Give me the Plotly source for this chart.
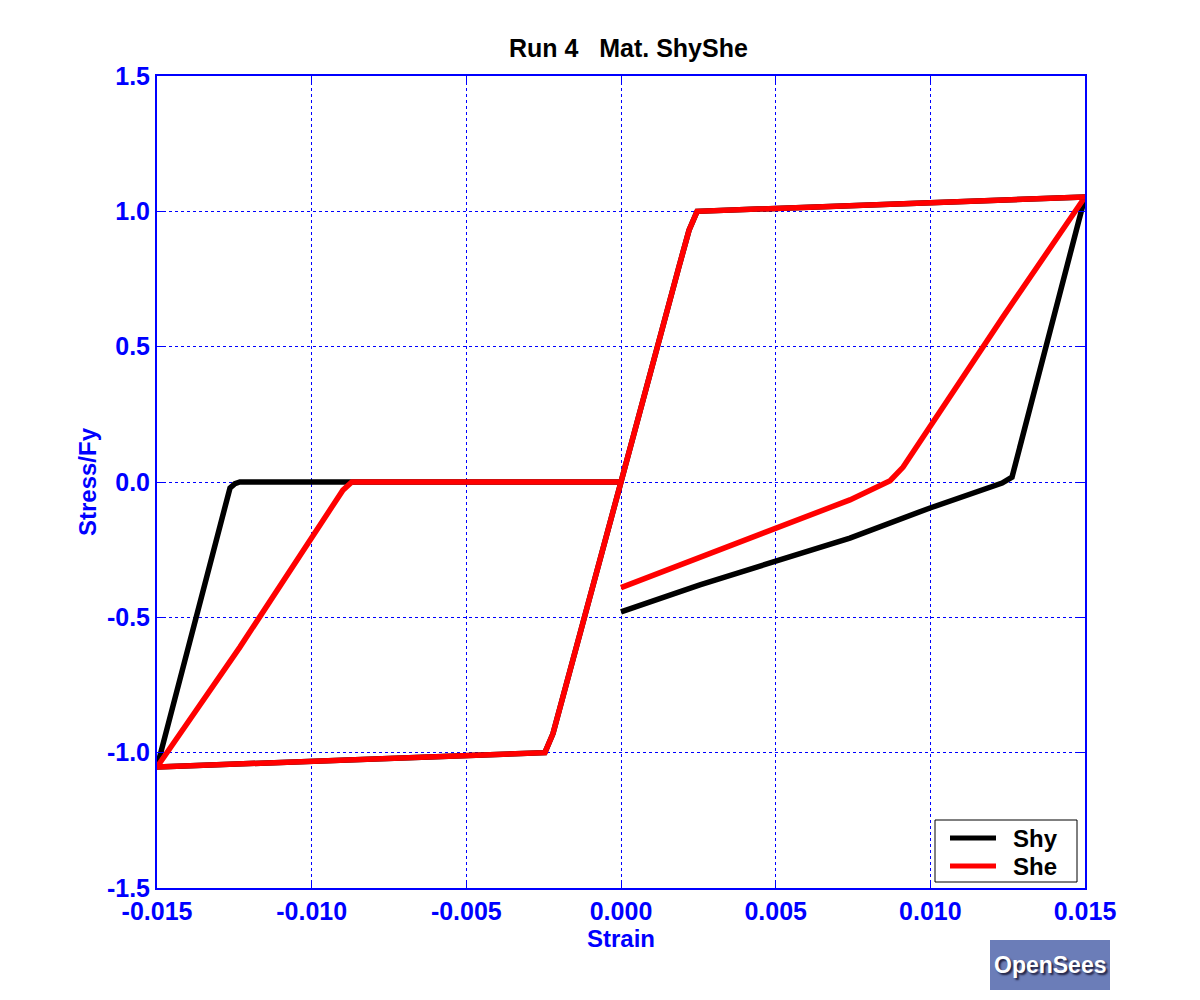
import plotly.graph_objects as go

# ---- data (strain, stress/Fy) ----
shy_strain = [0.0, -0.00187, -0.0022, -0.00246, -0.015, -0.01264, -0.01248, -0.01232, 0.0,
              0.00187, 0.0022, 0.00246, 0.015, 0.01264, 0.01248, 0.01232, 0.00999, 0.0074, 0.00255, 0.0]
shy_stress = [0.0, -0.794, -0.93, -1.0, -1.053, -0.022, -0.006, 0.0, 0.0,
              0.794, 0.93, 1.0, 1.053, 0.018, 0.005, -0.004, -0.096, -0.207, -0.38, -0.48]

she_strain = [0.0, -0.00187, -0.0022, -0.00246, -0.015, -0.01232, -0.00899, -0.0087, 0.0,
              0.00187, 0.0022, 0.00246, 0.015, 0.01235, 0.01022, 0.00912, 0.0087, 0.0074, 0.0]
she_stress = [0.0, -0.794, -0.93, -1.0, -1.053, -0.61, -0.03, 0.0, 0.0,
              0.794, 0.93, 1.0, 1.053, 0.61, 0.24, 0.055, 0.005, -0.066, -0.39]

series_names = ["Shy", "She"]
series_colors = ["black", "#ff0000"]

x_tickvals = [-0.015, -0.010, -0.005, 0.0, 0.005, 0.010, 0.015]
x_ticktext = ["-0.015", "-0.010", "-0.005", "0.000", "0.005", "0.010", "0.015"]
y_tickvals = [-1.5, -1.0, -0.5, 0.0, 0.5, 1.0, 1.5]
y_ticktext = ["-1.5", "-1.0", "-0.5", "0.0", "0.5", "1.0", "1.5"]

title_text = "Run 4\u00a0\u00a0\u00a0Mat. ShyShe"

FONT = "Liberation Sans, Arial, sans-serif"
BLUE = "#0000ff"

# plot-area pixel frame (for placing legend / badge in paper coordinates)
PX0, PX1, PY0, PY1 = 157, 1085, 76, 888


def px(x):
    return (x - PX0) / (PX1 - PX0)


def py(y):
    return (PY1 - y) / (PY1 - PY0)


fig = go.Figure()
for xs, ys, nm, col in [(shy_strain, shy_stress, series_names[0], series_colors[0]),
                        (she_strain, she_stress, series_names[1], series_colors[1])]:
    fig.add_trace(go.Scatter(x=xs, y=ys, mode="lines", name=nm,
                             line=dict(color=col, width=5.5), showlegend=False))

axis_common = dict(
    showline=True, linecolor=BLUE, linewidth=2, mirror="ticks",
    ticks="inside", ticklen=7, tickwidth=1, tickcolor=BLUE,
    showgrid=True, gridcolor=BLUE, gridwidth=1, griddash="3px,3px",
    zeroline=False,
    tickfont=dict(family=FONT, size=25, color=BLUE, weight="bold"),
)

fig.update_layout(
    width=1200, height=1000,
    paper_bgcolor="white", plot_bgcolor="white",
    margin=dict(l=149, r=123, t=68, b=120),
    title=dict(text=title_text, x=0.517, xanchor="center", y=0.96, yanchor="middle",
               yref="container",
               font=dict(family=FONT, size=25, color="black", weight="bold")),
    xaxis=dict(range=[-0.015, 0.015], tickvals=x_tickvals, ticktext=x_ticktext,
               title=dict(text="Strain", standoff=4,
                          font=dict(family=FONT, size=24, color=BLUE, weight="bold")),
               **axis_common),
    yaxis=dict(range=[-1.5, 1.5], tickvals=y_tickvals, ticktext=y_ticktext,
               title=dict(text="Stress/Fy", standoff=4,
                          font=dict(family=FONT, size=24, color=BLUE, weight="bold")),
               **axis_common),
    showlegend=False,
)

# legend box drawn by hand (matches the reference's framed legend)
fig.add_shape(type="rect", xref="paper", yref="paper",
              x0=px(935), x1=px(1077), y0=py(882), y1=py(820),
              line=dict(color="black", width=1), fillcolor="white", layer="above")
for i, (nm, col) in enumerate(zip(series_names, series_colors)):
    yy = 838 + 28 * i
    fig.add_shape(type="line", xref="paper", yref="paper",
                  x0=px(950), x1=px(996), y0=py(yy), y1=py(yy),
                  line=dict(color=col, width=5), layer="above")
    fig.add_annotation(text=nm, xref="paper", yref="paper",
                       x=px(1011), y=py(yy), xanchor="left", yanchor="middle",
                       showarrow=False,
                       font=dict(family=FONT, size=24, color="black", weight="bold"))

# OpenSees badge (approximation of the logo)
fig.add_shape(type="rect", xref="paper", yref="paper",
              x0=px(990), x1=px(1110), y0=py(990), y1=py(940),
              line=dict(width=0), fillcolor="#6b7db8", layer="above")
fig.add_annotation(text="OpenSees", xref="paper", yref="paper",
                   x=px(1050), y=py(965),
                   xanchor="center", yanchor="middle", showarrow=False,
                   font=dict(family=FONT, size=23,
                             color="white", weight="bold",
                             shadow="2px 2px 2px #202040"))

fig.write_html("out.html")
